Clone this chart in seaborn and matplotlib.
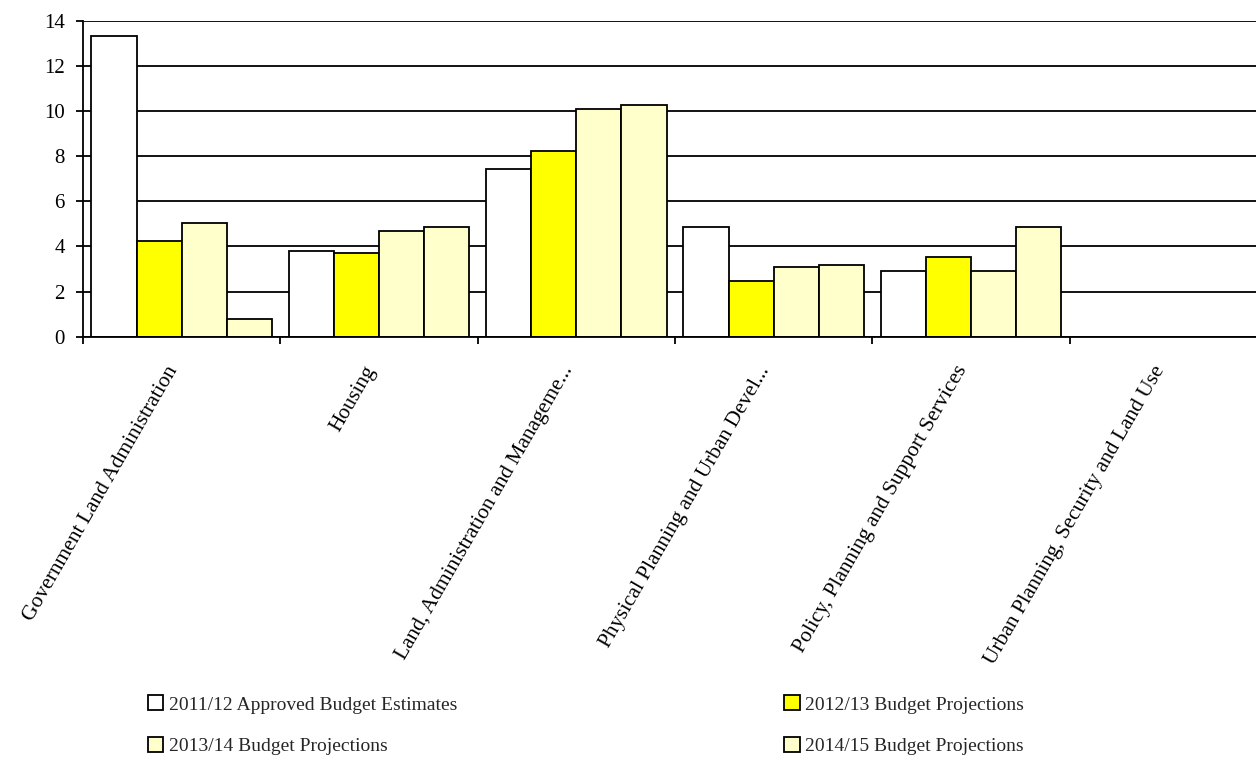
import matplotlib
matplotlib.use("Agg")
import matplotlib.pyplot as plt
import matplotlib.transforms as mtransforms
import seaborn as sns
import pandas as pd
import numpy as np

categories = [
    "Government Land Administration",
    "Housing",
    "Land, Administration and Manageme...",
    "Physical Planning and Urban Devel...",
    "Policy, Planning and Support Services",
    "Urban Planning, Security and Land Use",
]
series_names = [
    "2011/12 Approved Budget Estimates",
    "2012/13 Budget Projections",
    "2013/14 Budget Projections",
    "2014/15 Budget Projections",
]
v2011 = [13.3, 3.81, 7.43, 4.86, 2.91, 0.0]
v2012 = [4.24, 3.71, 8.23, 2.47, 3.53, 0.0]
v2013 = [5.05, 4.70, 10.10, 3.09, 2.91, 0.0]
v2014 = [0.77, 4.86, 10.27, 3.18, 4.86, 0.0]
colors = ["#FFFFFF", "#FFFF00", "#FFFFCC", "#FFFFCC"]

rows = []
for name, vals in zip(series_names, [v2011, v2012, v2013, v2014]):
    for c, v in zip(categories, vals):
        rows.append({"category": c, "series": name, "value": v})
df = pd.DataFrame(rows)

sns.set_theme(style="white")
plt.rcParams["font.family"] = ["Liberation Serif", "DejaVu Serif"]

fig = plt.figure(figsize=(12.56, 7.82), dpi=100)
ax = fig.add_axes([83 / 1256, 1 - 336.7 / 782, 1184 / 1256, 316 / 782])

sns.barplot(data=df, x="category", y="value", hue="series",
            order=categories, hue_order=series_names,
            palette=colors, width=0.915, edgecolor="black", linewidth=1.3,
            saturation=1, ax=ax, zorder=3)

ax.set_xlim(-0.5, 5.5)
ax.set_ylim(0, 14)
ax.set_yticks(np.arange(0, 15, 2))
ax.yaxis.grid(True, color="black", linewidth=1.3, zorder=0)
ax.set_axisbelow(True)
ax.set_xlabel("")
ax.set_ylabel("")

for s in ["top", "right"]:
    ax.spines[s].set_visible(False)
for s in ["left", "bottom"]:
    ax.spines[s].set_color("black")
    ax.spines[s].set_linewidth(1.3)
    ax.spines[s].set_zorder(5)

ax.tick_params(axis="y", which="major", direction="out", length=5, width=1.3,
               color="black", labelsize=15, labelcolor="black", left=True, pad=8)
ax.set_xticks(np.arange(len(categories)))
ax.set_xticklabels(categories, rotation=60, ha="right", rotation_mode="anchor",
                   fontsize=15.5, color="black")
ax.tick_params(axis="x", which="major", length=0, pad=20)
ax.set_xticks(np.arange(-0.5, len(categories), 1.0), minor=True)
ax.tick_params(axis="x", which="minor", direction="out", length=5, width=1.3,
               color="black", bottom=True)
offset = mtransforms.ScaledTranslation(-0.16, 0.02, fig.dpi_scale_trans)
for lab in ax.get_xticklabels():
    lab.set_transform(lab.get_transform() + offset)

handles, labels = ax.get_legend_handles_labels()
ax.get_legend().remove()
order = [0, 2, 1, 3]
leg = fig.legend([handles[i] for i in order], [labels[i] for i in order],
                 loc="lower left", bbox_to_anchor=(0.1036, 0.012),
                 ncol=2, frameon=False, fontsize=14,
                 handlelength=0.8, handleheight=0.8, handletextpad=0.3,
                 columnspacing=16.8, labelspacing=1.2)
for h in leg.legend_handles:
    h.set_linewidth(1.3)

fig.savefig("out.png", dpi=100, facecolor="white")
